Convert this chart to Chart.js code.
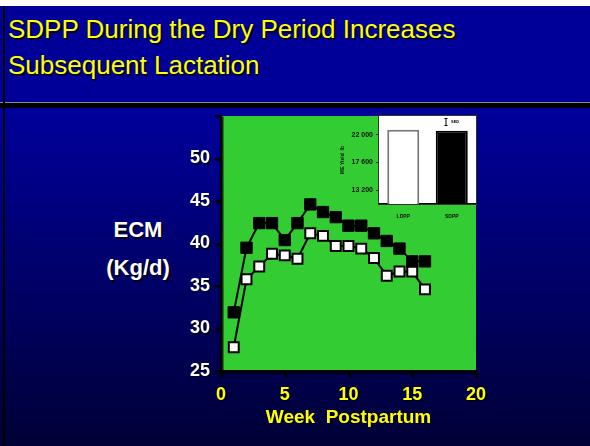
<!DOCTYPE html>
<html>
<head>
<meta charset="utf-8">
<script src="https://cdn.jsdelivr.net/npm/chart.js@4.4.0/dist/chart.umd.min.js"></script>
<style>
  html, body { margin: 0; padding: 0; }
  body {
    width: 590px; height: 446px; position: relative; overflow: hidden;
    background: #ffffff;
    font-family: "Liberation Sans", Arial, sans-serif;
  }
  #band {
    position: absolute; left: 0; top: 6px; width: 590px; height: 96px;
    background: #000099;
  }
  #rule1 { position: absolute; left: 0; top: 102px; width: 590px; height: 1px; background: #8a8a8a; }
  #rule2 { position: absolute; left: 0; top: 103px; width: 590px; height: 5px; background: #000000; }
  #bodyBg {
    position: absolute; left: 0; top: 108px; width: 590px; height: 338px;
    background: linear-gradient(#00009c, #000036);
  }
  #edge { position: absolute; left: 3px; top: 6px; width: 2px; height: 440px; background: #000000; }
  #title {
    position: absolute; left: 8px; top: 11px;
    color: #ffff00; font-size: 26px; line-height: 36px;
    text-shadow: 2px 2px 0 rgba(0, 0, 0, 0.75);
  }
  .ylab {
    position: absolute; width: 100px; text-align: center;
    color: #ffffff; font-weight: bold; font-size: 22px; line-height: 26px;
    text-shadow: 2px 2px 0 rgba(0, 0, 0, 0.8);
  }
  #main { position: absolute; left: 0; top: 0; }
  #inset { position: absolute; left: 330px; top: 108px; }
</style>
</head>
<body>
<div id="band"></div>
<div id="rule1"></div>
<div id="rule2"></div>
<div id="bodyBg"></div>
<div id="edge"></div>
<div id="title">SDPP During the Dry Period Increases<br>Subsequent Lactation</div>
<div class="ylab" style="left:88px; top:217px;">ECM</div>
<div class="ylab" style="left:88px; top:255px;">(Kg/d)</div>
<canvas id="main" width="590" height="446"></canvas>
<canvas id="inset" width="150" height="115"></canvas>
<script>
// Dữ liệu: tuần sau sinh và ECM (kg/ngày)
var weeks = [1, 2, 3, 4, 5, 6, 7, 8, 9, 10, 11, 12, 13, 14, 15, 16];
var sdppEcm = [31.9, 39.5, 42.4, 42.4, 40.4, 42.4, 44.6, 43.7, 43.1, 42.1, 42.1, 41.2, 40.3, 39.4, 37.9, 37.9];
var ldppEcm = [27.8, 35.8, 37.3, 38.8, 38.6, 38.2, 41.2, 40.9, 39.7, 39.7, 39.4, 38.3, 36.2, 36.7, 36.7, 34.6];

// Biểu đồ nhỏ: sản lượng ME (lb)
var groups = ['LDPP', 'SDPP'];
var meYield = [22800, 22650];
var insetTicks = [13200, 17600, 22000];

var FONT = '"Liberation Sans", Arial, sans-serif';

function toPoints(ys) {
    return weeks.map(function (w, i) {
        return { x: w, y: ys[i] };
    });
}

// Nền xanh lá cho vùng vẽ
var greenArea = {
    id: 'greenArea',
    beforeDraw: function (chart) {
        var ctx = chart.ctx;
        var a = chart.chartArea;
        ctx.save();
        ctx.fillStyle = '#33cc33';
        ctx.fillRect(a.left, a.top, a.right - a.left, a.bottom - a.top);
        ctx.restore();
        // bóng chữ cho nhãn trục
        ctx.shadowColor = 'rgba(0,0,0,0.8)';
        ctx.shadowOffsetX = 1.5;
        ctx.shadowOffsetY = 1.5;
        ctx.shadowBlur = 0;
    },
    beforeDatasetsDraw: function (chart) {
        var ctx = chart.ctx;
        ctx.shadowColor = 'rgba(0,0,0,0)';
        ctx.shadowOffsetX = 0;
        ctx.shadowOffsetY = 0;
    }
};

var mainChart = new Chart(document.getElementById('main').getContext('2d'), {
    type: 'line',
    data: {
        datasets: [{
            label: 'SDPP',
            data: toPoints(sdppEcm),
            borderColor: '#000000',
            borderWidth: 2,
            pointStyle: 'rect',
            pointRadius: 8,
            pointHoverRadius: 8,
            pointBackgroundColor: '#000000',
            pointBorderColor: '#000000',
            pointBorderWidth: 1,
            tension: 0
        }, {
            label: 'LDPP',
            data: toPoints(ldppEcm),
            borderColor: '#000000',
            borderWidth: 2,
            pointStyle: 'rect',
            pointRadius: 7,
            pointHoverRadius: 7,
            pointBackgroundColor: '#ffffff',
            pointBorderColor: '#000000',
            pointBorderWidth: 2,
            tension: 0
        }]
    },
    options: {
        responsive: false,
        animation: false,
        devicePixelRatio: 1,
        layout: { padding: { left: 171, right: 114, top: 116, bottom: 17 } },
        scales: {
            x: {
                type: 'linear',
                min: 0,
                max: 20,
                ticks: {
                    stepSize: 5,
                    color: '#ffff00',
                    font: { family: FONT, size: 18, weight: 'bold' },
                    padding: 7,
                    maxRotation: 0
                },
                grid: { display: true, drawOnChartArea: false, drawTicks: true, tickLength: 6, color: '#000000', lineWidth: 2 },
                border: { color: '#000000', width: 2 },
                title: {
                    display: true,
                    text: 'Week  Postpartum',
                    color: '#ffff00',
                    font: { family: FONT, size: 19, weight: 'bold' },
                    padding: 0
                },
                afterFit: function (scale) { scale.height = 58; }
            },
            y: {
                min: 25,
                max: 55,
                ticks: {
                    stepSize: 5,
                    color: '#ffffff',
                    font: { family: FONT, size: 18, weight: 'bold' },
                    padding: 5,
                    callback: function (v) { return v === 55 ? '' : v; }
                },
                grid: { display: true, drawOnChartArea: false, drawTicks: true, tickLength: 6, color: '#000000', lineWidth: 2 },
                border: { color: '#000000', width: 2 },
                afterFit: function (scale) { scale.width = 50; }
            }
        },
        plugins: {
            legend: { display: false },
            tooltip: { enabled: false }
        }
    },
    plugins: [greenArea]
});

// Khung trắng + ký hiệu SED cho biểu đồ nhỏ
var insetFrame = {
    id: 'insetFrame',
    beforeDraw: function (chart) {
        var ctx = chart.ctx;
        var a = chart.chartArea;
        ctx.save();
        ctx.fillStyle = '#ffffff';
        ctx.fillRect(a.left, a.top, a.right - a.left, a.bottom - a.top);
        ctx.restore();
    },
    afterDraw: function (chart) {
        var ctx = chart.ctx;
        var a = chart.chartArea;
        ctx.save();
        ctx.strokeStyle = '#333333';
        ctx.lineWidth = 1;
        ctx.strokeRect(a.left - 0.5, a.top - 0.5, a.right - a.left + 1, a.bottom - a.top + 1);
        // SED
        var sx = a.left + 67;
        var sy = a.top + 2;
        ctx.strokeStyle = '#000000';
        ctx.lineWidth = 1;
        ctx.beginPath();
        ctx.moveTo(sx - 1.5, sy + 0.5); ctx.lineTo(sx + 1.5, sy + 0.5);
        ctx.moveTo(sx, sy); ctx.lineTo(sx, sy + 8);
        ctx.moveTo(sx - 1.5, sy + 7.5); ctx.lineTo(sx + 1.5, sy + 7.5);
        ctx.stroke();
        ctx.fillStyle = '#000000';
        ctx.font = 'bold 4px ' + FONT;
        ctx.textBaseline = 'middle';
        ctx.fillText('SED', sx + 5, sy + 4);
        ctx.restore();
    }
};

var insetChart = new Chart(document.getElementById('inset').getContext('2d'), {
    type: 'bar',
    data: {
        labels: groups,
        datasets: [{
            data: meYield,
            backgroundColor: ['#ffffff', '#000000'],
            borderColor: ['#777777', '#000000'],
            borderWidth: 2,
            borderSkipped: 'bottom',
            categoryPercentage: 1,
            barPercentage: 0.66
        }]
    },
    options: {
        responsive: false,
        animation: false,
        devicePixelRatio: 1,
        layout: { padding: { left: 0, right: 4, top: 8, bottom: 0 } },
        scales: {
            x: {
                ticks: {
                    color: '#111111',
                    font: { family: FONT, size: 5, weight: 'bold' },
                    padding: 2
                },
                grid: { display: false },
                border: { color: '#000000', width: 2 },
                afterFit: function (scale) { scale.height = 19; }
            },
            y: {
                min: 11000,
                max: 25000,
                afterBuildTicks: function (scale) {
                    scale.ticks = insetTicks.map(function (v) { return { value: v }; });
                },
                ticks: {
                    color: '#111111',
                    font: { family: FONT, size: 7, weight: 'bold' },
                    padding: 3,
                    callback: function (v) {
                        var s = String(v);
                        return s.slice(0, s.length - 3) + ' ' + s.slice(s.length - 3);
                    }
                },
                grid: { display: true, drawOnChartArea: false, drawTicks: true, tickLength: 3, color: '#222222', lineWidth: 1 },
                border: { display: false },
                title: {
                    display: true,
                    text: 'ME Yield  lb',
                    color: '#111111',
                    font: { family: FONT, size: 5, weight: 'bold' },
                    padding: { top: 10, bottom: 0 }
                },
                afterFit: function (scale) { scale.width = 49; }
            }
        },
        plugins: {
            legend: { display: false },
            tooltip: { enabled: false }
        }
    },
    plugins: [insetFrame]
});
</script>
</body>
</html>
